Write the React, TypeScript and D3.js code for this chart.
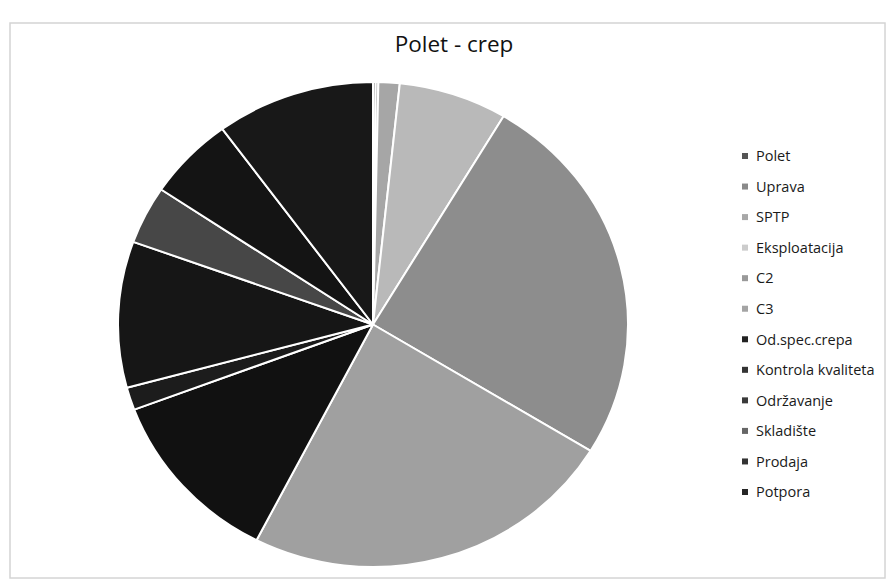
import React from "react";
import * as d3 from "d3";

const categories = [
  "Polet",
  "Uprava",
  "SPTP",
  "Eksploatacija",
  "C2",
  "C3",
  "Od.spec.crepa",
  "Kontrola kvaliteta",
  "Održavanje",
  "Skladište",
  "Prodaja",
  "Potpora",
];
const values = [1, 1, 8, 41, 150, 142, 70, 9, 58, 23, 33, 60];
const sliceColors = [
  "#6a6a6a", "#9a9a9a", "#a6a6a6", "#b9b9b9", "#8d8d8d", "#a0a0a0",
  "#111111", "#1c1c1c", "#161616", "#474747", "#141414", "#181818",
];
const legendColors = [
  "#555555", "#8a8a8a", "#a8a8a8", "#cccccc", "#999999", "#a4a4a4",
  "#222222", "#333333", "#3a3a3a", "#666666", "#333333", "#262626",
];
const title = "Polet - crep";

export default function App() {
  const W = 891, H = 583;
  const cx = 373, cy = 324.5, ry = 242.5, rx = 255;
  const data = categories.map((c, i) => ({ c, v: values[i], i }));
  const pie = d3.pie<any>().value((d) => d.v).sort(null);
  const arcs = pie(data);
  const arc = d3.arc<any>().innerRadius(0).outerRadius(ry);
  const legendY = d3.scalePoint<string>().domain(categories).range([156, 492]);

  return (
    <svg width={W} height={H} style={{ position: "absolute", left: 0, top: 0, background: "#fff" }}>
      <rect x={10} y={23} width={875} height={555} fill="#fff" stroke="#d4d4d4" strokeWidth={1.5} />
      <text x={454} y={52} textAnchor="middle" fontFamily="Open Sans, sans-serif" fontSize={22.5} fill="#111">
        {title}
      </text>
      <g transform={`translate(${cx},${cy}) scale(${rx / ry},1)`}>
        {arcs.map((a, i) => (
          <path
            key={i}
            d={arc(a) as string}
            fill={sliceColors[i]}
            stroke="#ffffff"
            strokeWidth={2}
            vectorEffect="non-scaling-stroke"
            strokeLinejoin="round"
          />
        ))}
      </g>
      {categories.map((c, i) => (
        <g key={c} transform={`translate(745,${legendY(c)})`}>
          <rect x={-3} y={-3} width={6} height={6} fill={legendColors[i]} />
          <text x={11} y={0} dy="0.36em" fontFamily="Open Sans, sans-serif" fontSize={14.5} fill="#1a1a1a">
            {c}
          </text>
        </g>
      ))}
    </svg>
  );
}
